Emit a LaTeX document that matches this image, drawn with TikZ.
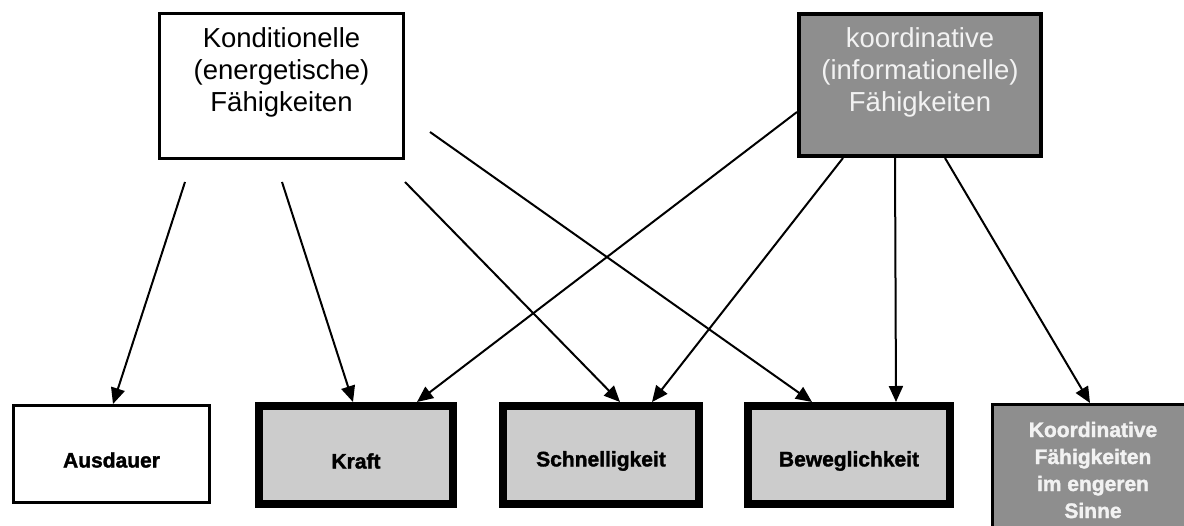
\documentclass[tikz,border=0pt]{standalone}
\usepackage{fontspec}
\setmainfont{Liberation Sans}
\newfontfamily\heavyfont[BoldFeatures={FakeBold=1.6}]{Liberation Sans}
\usetikzlibrary{arrows.meta}
\definecolor{darkfill}{HTML}{8E8E8E}
\definecolor{lightfill}{HTML}{CCCCCC}
\definecolor{paletext}{HTML}{F2F2F2}
\begin{document}
\begin{tikzpicture}[x=1pt,y=-1pt,
  topbox/.style={draw=black,line width=3pt,rectangle,inner sep=0pt},
  toptext/.style={align=center,font=\fontsize{27.5}{32}\selectfont,inner sep=0pt},
  plainbox/.style={draw=black,line width=3pt,rectangle,inner sep=0pt,fill=white},
  thickbox/.style={draw=black,line width=8pt,rectangle,inner sep=0pt,fill=lightfill},
  btext/.style={font=\heavyfont\fontsize{21}{27}\selectfont\bfseries,align=center,inner sep=0pt},
  arr/.style={line width=2pt,-{Triangle[length=16pt,width=14pt]}}]
\clip (0,0) rectangle (1184,526);
\fill[white] (0,0) rectangle (1184,526);

% top boxes
\node[topbox,minimum width=244pt,minimum height=145pt] (kond) at (281.5,86) {};
\node[toptext] (kondt) at (281.5,72) {Konditionelle\\(energetische)\\Fähigkeiten};
\node[topbox,fill=darkfill,line width=4pt,minimum width=242pt,minimum height=142pt] (koor) at (920,85) {};
\node[toptext,text=paletext] (koort) at (920,72) {koordinative\\(informationelle)\\Fähigkeiten};

% bottom boxes
\node[plainbox,minimum width=196pt,minimum height=97pt] (aus) at (111.5,454) {};
\node[btext] at (111.5,460) {Ausdauer};
\node[thickbox,minimum width=194pt,minimum height=98pt] (kraft) at (356,455) {};
\node[btext] at (356,461) {Kraft};
\node[thickbox,minimum width=196pt,minimum height=98pt] (schn) at (601,455) {};
\node[btext] at (601,461) {Schnelligkeit};
\node[thickbox,minimum width=202pt,minimum height=98pt] (bew) at (849,455) {};
\node[btext] at (849,461) {Beweglichkeit};
\node[plainbox,fill=darkfill,minimum width=203pt,minimum height=154pt] (kie) at (1094,481.5) {};
\node[btext,text=paletext] at (1093,470) {Koordinative\\Fähigkeiten\\im engeren\\Sinne};

% free start points below/beside the left top box
\coordinate (s1) at (185,182);
\coordinate (s2) at (282,182);
\coordinate (s3) at (405,182);
\coordinate (s4) at (430,132);

% arrows from konditionelle
\draw[arr] (s1) -- ([xshift=1.5pt]aus.north);
\draw[arr] (s2) -- ([xshift=-3pt]kraft.north);
\draw[arr] (s3) -- ([xshift=19pt]schn.north);
\draw[arr] (s4) -- ([xshift=-37pt]bew.north);

% arrows from koordinative
\draw[arr] ([yshift=-27pt]koor.west) -- ([xshift=61pt]kraft.north);
\draw[arr] ([xshift=-77pt]koor.south) -- ([xshift=51pt]schn.north);
\draw[arr] ([xshift=-25pt]koor.south) -- ([xshift=47pt]bew.north);
\draw[arr] ([xshift=25pt]koor.south) -- ([xshift=-4pt]kie.north);
\end{tikzpicture}
\end{document}
